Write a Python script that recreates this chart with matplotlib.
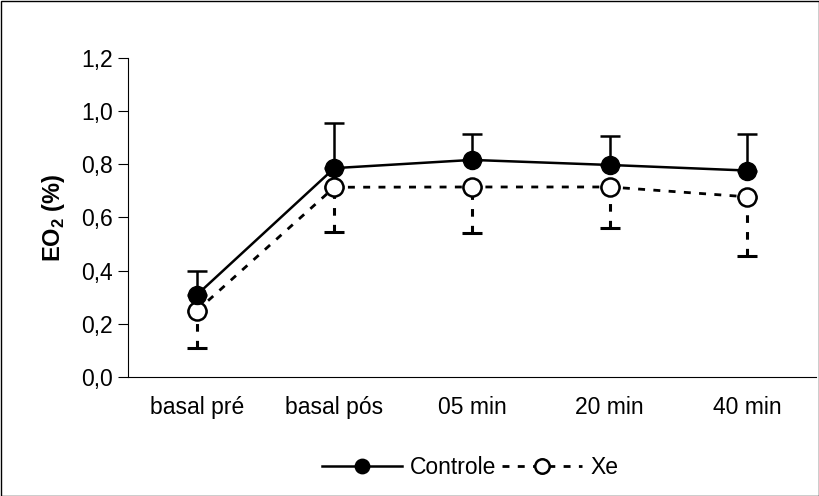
import matplotlib
matplotlib.use("Agg")
import matplotlib.pyplot as plt
import numpy as np

plt.rcParams['font.family'] = ['Liberation Sans', 'DejaVu Sans']

categories = ['basal pré', 'basal pós', '05 min', '20 min', '40 min']
controle = [0.308, 0.786, 0.817, 0.798, 0.777]
controle_err = [0.092, 0.171, 0.097, 0.109, 0.137]
xe = [0.248, 0.714, 0.715, 0.715, 0.678]
xe_err = [0.141, 0.170, 0.175, 0.153, 0.223]

fig = plt.figure(figsize=(8.2, 4.96), dpi=100)
ax = fig.add_axes([0.156, 0.2405, 0.839, 0.642])
x = np.arange(len(categories)) + 0.5

# error bars: controle up, xe down
eb1 = ax.errorbar(x, controle, yerr=[np.zeros(5), controle_err], fmt='none',
                  ecolor='black', elinewidth=1.8, capsize=7, capthick=1.8, zorder=2)
eb2 = ax.errorbar(x, xe, yerr=[xe_err, np.zeros(5)], fmt='none',
                  ecolor='black', elinewidth=2.2, capsize=7, capthick=2.2, zorder=2)
for c in eb2[2]:
    c.set_linestyle((0, (2.5, 3)))

ax.plot(x, controle, '-', color='black', lw=1.8, marker='o', ms=13,
        mfc='black', mec='black', label='Controle', zorder=4)
ax.plot(x, xe, color='black', lw=2.0, ls=(0, (2.5, 3)), marker='o', ms=13,
        mfc='white', mec='black', mew=1.8, label='Xe', zorder=3)

ax.set_xlim(0, 5)
ax.set_ylim(0, 1.2)
ax.set_xticks(x)
ax.set_xticklabels(categories, fontsize=16.5)
yt = np.arange(0, 1.21, 0.2)
ax.set_yticks(yt)
ax.set_yticklabels([f'{v:.1f}'.replace('.', ',') for v in yt], fontsize=16.5)
ax.tick_params(axis='x', length=0, pad=14)
ax.tick_params(axis='y', length=7, direction='out', pad=4)
ax.spines['top'].set_visible(False)
ax.spines['right'].set_visible(False)
ax.set_ylabel('EO$_\\mathregular{2}$ (%)', fontsize=17, fontweight='bold', labelpad=10)

leg = fig.legend(loc='center', bbox_to_anchor=(0.573, 0.058), ncol=2, frameon=False,
                 fontsize=16.5, handlelength=3.5, handletextpad=0.35, columnspacing=0.25,
                 markerscale=0.8, borderpad=0)

border = plt.Rectangle((0.001, 0.001), 0.998, 0.997, transform=fig.transFigure,
                       fill=False, ec='black', lw=1)
fig.patches.append(border)

fig.savefig('out.png', dpi=100)
